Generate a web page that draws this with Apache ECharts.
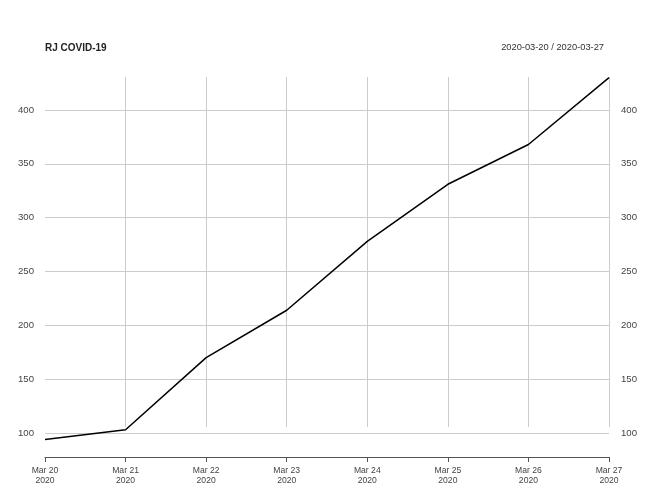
<!DOCTYPE html>
<html>
<head>
<meta charset="utf-8">
<script src="https://cdn.jsdelivr.net/npm/echarts@6/dist/echarts.min.js"></script>
<style>html,body{margin:0;padding:0;background:#fff}#c{width:655px;height:491px}</style>
</head>
<body>
<div id="c"></div>
<script>
var dates = ['2020-03-20','2020-03-21','2020-03-22','2020-03-23','2020-03-24','2020-03-25','2020-03-26','2020-03-27'];
var xLabels = ['Mar 20\n2020','Mar 21\n2020','Mar 22\n2020','Mar 23\n2020','Mar 24\n2020','Mar 25\n2020','Mar 26\n2020','Mar 27\n2020'];
var cases = [94, 103, 170, 214, 278, 331, 368, 430];
var yTicks = [100, 150, 200, 250, 300, 350, 400];
var titleText = 'RJ COVID-19';
var rangeText = '2020-03-20 / 2020-03-27';

var FONT = 'Liberation Sans, Arial, sans-serif';
var chart = echarts.init(document.getElementById('c'), null, {renderer: 'canvas'});
var yMin = yTicks[0], yMax = yTicks[yTicks.length - 1];
chart.setOption({
  animation: false,
  backgroundColor: '#fff',
  title: [
    {text: titleText, left: 45, top: 43, padding: 0, textStyle: {fontFamily: FONT, fontSize: 10, fontWeight: 'bold', color: '#222'}},
    {text: rangeText, right: 51, top: 43, padding: 0, textStyle: {fontFamily: FONT, fontSize: 9.3, fontWeight: 'normal', color: '#333'}}
  ],
  grid: [
    {left: 45, right: 46, top: 110, bottom: 58},
    {left: 45, right: 46, top: 77, bottom: 64}
  ],
  xAxis: [
    {
      type: 'category', gridIndex: 0, data: xLabels, boundaryGap: false, offset: 24,
      axisLine: {show: true, lineStyle: {color: '#555', width: 1}},
      axisTick: {show: true, length: 5, lineStyle: {color: '#555'}},
      axisLabel: {fontFamily: FONT, fontSize: 8.6, color: '#444', margin: 9, lineHeight: 9.6, interval: 0},
      splitLine: {show: false}
    },
    {
      type: 'category', gridIndex: 1, data: xLabels, boundaryGap: false,
      axisLine: {show: false}, axisTick: {show: false}, axisLabel: {show: false},
      splitLine: {show: true, showMinLine: false, showMaxLine: true, lineStyle: {color: '#cccccc', width: 1}}
    }
  ],
  yAxis: [
    {
      type: 'value', gridIndex: 0, min: yMin, max: yMax, interval: 50, position: 'left',
      axisLine: {show: false}, axisTick: {show: false},
      axisLabel: {fontFamily: FONT, fontSize: 9.6, color: '#444', margin: 11},
      splitLine: {show: true, lineStyle: {color: '#cccccc', width: 1}}
    },
    {
      type: 'value', gridIndex: 0, min: yMin, max: yMax, interval: 50, position: 'right',
      axisLine: {show: false}, axisTick: {show: false},
      axisLabel: {fontFamily: FONT, fontSize: 9.6, color: '#444', margin: 12},
      splitLine: {show: false}
    },
    {
      type: 'value', gridIndex: 1, show: false, splitLine: {show: false}
    }
  ],
  series: [
    {
      type: 'line', xAxisIndex: 0, yAxisIndex: 0, data: cases, clip: false,
      symbol: 'none', lineStyle: {color: '#000', width: 1.5}, z: 5
    }
  ]
});
</script>
</body>
</html>
